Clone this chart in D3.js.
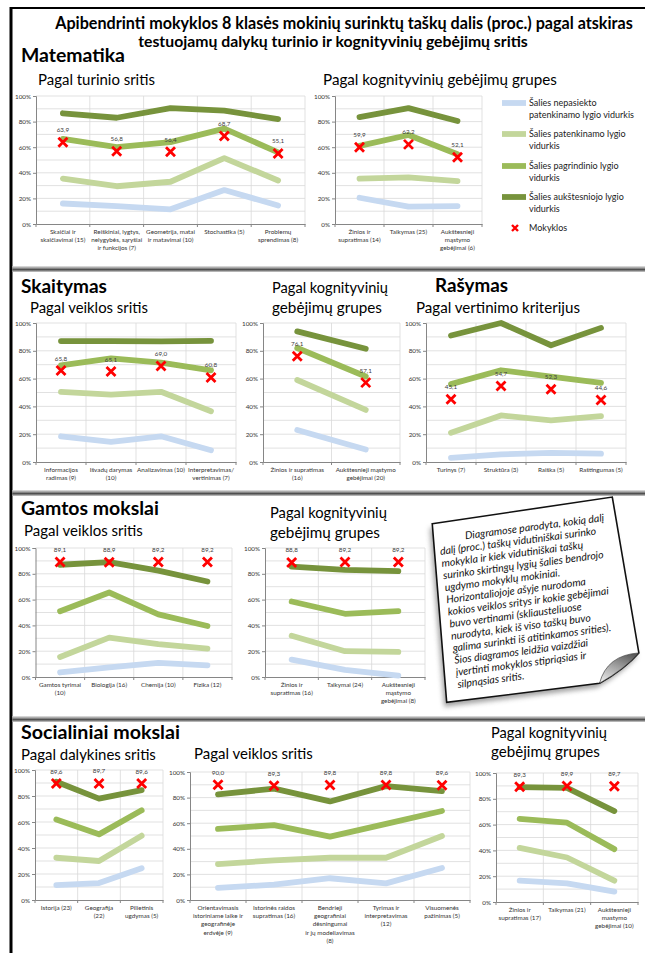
<!DOCTYPE html>
<html>
<head>
<meta charset="utf-8">
<script src="https://cdn.jsdelivr.net/npm/d3@7"></script>
<style>
  body { margin: 0; background: #fff; }
  svg { display: block; font-family: Lato, "Open Sans", sans-serif; }
</style>
</head>
<body>
<svg id="page" width="645" height="953"></svg>
<script>
// ---- serijos ----
const seriesNames = ["Šalies nepasiekto\npatenkinamo lygio vidurkis", "Šalies patenkinamo lygio\nvidurkis",
  "Šalies pagrindinio lygio\nvidurkis", "Šalies aukštesniojo lygio\nvidurkis"];
const schoolName = "Mokyklos";

// Matematika - pagal turinio sritis
const matTurCats = ["Skaičiai ir\nskaičiavimai (15)", "Reiškiniai, lygtys,\nnelygybės, sąryšiai\nir funkcijos (7)",
  "Geometrija, matai\nir matavimai (10)", "Stochastika (5)", "Problemų\nsprendimas (8)"];
const matTurNepas = [16, 14, 11.5, 26.5, 14.5];
const matTurPaten = [35.5, 29.5, 33, 51.5, 34];
const matTurPagr = [66.5, 60, 64, 74.5, 56];
const matTurAuk = [86.5, 83, 90.5, 88.5, 82];
const matTurMok = [63.9, 56.8, 56.4, 68.7, 55.1];

// Matematika - pagal kognityvinių gebėjimų grupes
const matKogCats = ["Žinios ir\nsupratimas (14)", "Taikymas (25)", "Aukštesnieji\nmąstymo\ngebėjimai (6)"];
const matKogNepas = [20.5, 13.5, 14];
const matKogPaten = [35.5, 36.5, 33.5];
const matKogPagr = [61, 69.5, 54.5];
const matKogAuk = [83.5, 90.5, 80.5];
const matKogMok = [59.9, 62.2, 52.1];

// Skaitymas - pagal veiklos sritis
const skVeikCats = ["Informacijos\nradimas (9)", "Išvadų darymas\n(10)", "Analizavimas (10)", "Interpretavimas/\nvertinimas (7)"];
const skVeikNepas = [18.5, 14.5, 18.5, 8.5];
const skVeikPaten = [50.5, 48.5, 50.5, 36.5];
const skVeikPagr = [69.5, 74.5, 71.5, 66];
const skVeikAuk = [87, 87, 86.8, 87.2];
const skVeikMok = [65.8, 65.1, 69.0, 60.8];

// Skaitymas - pagal kognityvinių gebėjimų grupes
const skKogCats = ["Žinios ir supratimas\n(16)", "Aukštesnieji mąstymo\ngebėjimai (20)"];
const skKogNepas = [23, 9];
const skKogPaten = [59, 37.5];
const skKogPagr = [82, 61.5];
const skKogAuk = [94, 81.5];
const skKogMok = [76.1, 57.1];

// Rašymas - pagal vertinimo kriterijus
const rasCats = ["Turinys (7)", "Struktūra (3)", "Raiška (5)", "Raštingumas (5)"];
const rasNepas = [3, 5.5, 6.5, 6];
const rasPaten = [21, 33.5, 30, 33];
const rasPagr = [56, 66, 61.5, 57];
const rasAuk = [91, 100, 84, 96.5];
const rasMok = [45.1, 54.7, 52.3, 44.6];

// Gamtos mokslai - pagal veiklos sritis
const gamVeikCats = ["Gamtos tyrimai\n(10)", "Biologija (16)", "Chemija (10)", "Fizika  (12)"];
const gamVeikNepas = [3.5, 7.5, 11, 9];
const gamVeikPaten = [15.5, 30.5, 25.5, 22];
const gamVeikPagr = [51, 65.5, 48.5, 39.5];
const gamVeikAuk = [87, 89, 82.5, 74];
const gamVeikMok = [89.1, 88.9, 89.2, 89.2];

// Gamtos mokslai - pagal kognityvinių gebėjimų grupes
const gamKogCats = ["Žinios ir\nsupratimas (16)", "Taikymai (24)", "Aukštesnieji\nmąstymo\ngebėjimai (8)"];
const gamKogNepas = [13.5, 5.5, 1];
const gamKogPaten = [32, 20, 19.5];
const gamKogPagr = [58.5, 49, 51];
const gamKogAuk = [85.5, 83, 82];
const gamKogMok = [88.8, 89.2, 89.2];

// Socialiniai mokslai - pagal dalykines sritis
const socDalCats = ["Istorija (23)", "Geografija\n(22)", "Pilietinis\nugdymas (5)"];
const socDalNepas = [11.5, 13, 24.5];
const socDalPaten = [32.5, 30, 49.5];
const socDalPagr = [62, 50.5, 69];
const socDalAuk = [91, 78, 84.5];
const socDalMok = [89.6, 89.7, 89.6];

// Socialiniai mokslai - pagal veiklos sritis
const socVeikCats = ["Orientavimasis\nistoriniame laike ir\ngeografinėje\nerdvėje (9)", "Istorinės raidos\nsupratimas (16)",
  "Bendrieji\ngeografiniai\ndėsningumai\nir jų modeliavimas\n(8)", "Tyrimas ir\ninterpretavimas\n(12)", "Visuomenės\npažinimas (5)"];
const socVeikNepas = [9.5, 12, 17, 13, 25];
const socVeikPaten = [28, 31, 33, 33, 50];
const socVeikPagr = [55.5, 58.5, 49.5, 59.5, 69.5];
const socVeikAuk = [82.5, 87, 77, 89, 85];
const socVeikMok = [90.0, 89.3, 89.8, 89.8, 89.6];

// Socialiniai mokslai - pagal kognityvinių gebėjimų grupes
const socKogCats = ["Žinios ir\nsupratimas (17)", "Taikymas  (21)", "Aukštesnieji\nmastymo\ngebėjimai (10)"];
const socKogNepas = [16.5, 14.5, 8];
const socKogPaten = [42, 34.5, 16.5];
const socKogPagr = [64.5, 61.5, 41];
const socKogAuk = [89, 88.5, 70.5];
const socKogMok = [89.3, 89.9, 89.7];

const noteLines = [
  "Diagramose parodyta, kokią dalį",
  "dalį (proc.) taškų vidutiniškai surinko",
  "mokykla ir kiek vidutiniškai taškų",
  "surinko skirtingų lygių šalies bendrojo",
  "ugdymo mokyklų mokiniai.",
  "Horizontaliojoje ašyje nurodoma",
  "kokios veiklos sritys ir kokie gebėjimai",
  "buvo vertinami (skliausteliuose",
  "nurodyta, kiek iš viso taškų buvo",
  "galima surinkti iš atitinkamos srities).",
  "Šios diagramos leidžia  vaizdžiai",
  "įvertinti  mokyklos stipriąsias ir",
  "silpnąsias sritis."
];

const colors = ["#C6D9F1", "#C3D69B", "#9BBB59", "#77933C"];

const svg = d3.select("#page");

// tekstas, kurio plotis pritaikomas prie originalo
function text(x, y, str, size, width, opts = {}) {
  const t = svg.append("text").attr("x", x).attr("y", y).attr("font-size", size)
    .attr("font-weight", opts.bold ? "bold" : "normal").attr("fill", "#000")
    .attr("text-anchor", opts.anchor || "start").text(str);
  if (width) {
    const len = t.node().getComputedTextLength();
    t.attr("font-size", size * width / len);
  }
  return t;
}

const fmt = v => d3.format(".1f")(v).replace(".", ",");

function drawChart(c) {
  const g = svg.append("g");
  const x = d3.scaleBand().domain(c.cats).range([c.x0, c.x1]);
  const y = d3.scaleLinear().domain([0, 100]).range([c.y1, c.y0]);
  const cx = (d, i) => x(c.cats[i]) + x.bandwidth() / 2;

  g.selectAll(".hg").data(d3.range(10, 101, 10)).join("line")
    .attr("x1", c.x0).attr("x2", c.x1)
    .attr("y1", d => y(d)).attr("y2", d => y(d))
    .attr("stroke", "#D9D9D9").attr("stroke-width", 0.8);

  const bounds = c.cats.slice(1).map(d => x(d)).concat([c.x1]);
  g.selectAll(".vg").data(bounds).join("line")
    .attr("x1", d => d).attr("x2", d => d)
    .attr("y1", c.y0).attr("y2", c.y1)
    .attr("stroke", "#D9D9D9").attr("stroke-width", 0.8);

  const ya = g.append("g").attr("transform", `translate(${c.x0},0)`)
    .call(d3.axisLeft(y).tickValues(d3.range(0, 101, 20)).tickFormat(d => d + "%").tickSize(3).tickPadding(2));
  ya.select(".domain").attr("stroke", "#868686");
  ya.selectAll(".tick line").attr("stroke", "#868686");
  ya.selectAll("text").attr("font-size", 6.3).attr("fill", "#333").attr("font-family", "Lato, sans-serif");

  const xa = g.append("g").attr("transform", `translate(0,${c.y1})`)
    .call(d3.axisBottom(x).tickSize(0).tickPadding(0));
  xa.select(".domain").attr("stroke", "#868686");
  xa.selectAll(".tick text").each(function (d) {
    const t = d3.select(this).attr("y", 0).attr("dy", null).text(null)
      .attr("font-size", 6.3).attr("fill", "#333").attr("font-family", "Lato, sans-serif");
    d.split("\n").forEach((s, i) => t.append("tspan").attr("x", 0).attr("dy", i ? 8.2 : 10).text(s));
  });
  g.selectAll(".xt").data([c.x0].concat(bounds)).join("line")
    .attr("x1", d => d).attr("x2", d => d)
    .attr("y1", c.y1).attr("y2", c.y1 + 3)
    .attr("stroke", "#868686");

  const line = d3.line().x(cx).y(d => y(d));
  c.series.forEach((s, i) => {
    g.append("path").datum(s).attr("d", line)
      .attr("fill", "none").attr("stroke", colors[i]).attr("stroke-width", 5.8)
      .attr("stroke-linecap", "round").attr("stroke-linejoin", "round");
  });

  g.selectAll(".mk").data(c.school).join("path")
    .attr("transform", (d, i) => `translate(${cx(d, i)},${y(d)})`)
    .attr("d", "M-4.5,-4.5L4.5,4.5M4.5,-4.5L-4.5,4.5")
    .attr("stroke", "#FF0000").attr("stroke-width", 2.8);

  g.selectAll(".vl").data(c.school).join("text")
    .attr("x", cx).attr("y", d => y(d) - 10)
    .attr("text-anchor", "middle").attr("font-size", 6.3).attr("fill", "#404040")
    .text(fmt);
}

// rėmeliai
svg.append("line").attr("x1", 11).attr("x2", 11).attr("y1", 7).attr("y2", 953).attr("stroke", "#000").attr("stroke-width", 3);
svg.append("line").attr("x1", 10).attr("x2", 645).attr("y1", 8).attr("y2", 8).attr("stroke", "#000").attr("stroke-width", 2);

const defs = svg.append("defs");
const sepGrad = defs.append("linearGradient").attr("id", "sep").attr("x1", 0).attr("x2", 0).attr("y1", 0).attr("y2", 1);
[["0%", "#e8e8e8"], ["40%", "#8a8a8a"], ["60%", "#4a4a4a"], ["100%", "#d0d0d0"]]
  .forEach(([o, col]) => sepGrad.append("stop").attr("offset", o).attr("stop-color", col));
[266, 490, 716].forEach(yy => {
  svg.append("rect").attr("x", 12.5).attr("y", yy).attr("width", 633).attr("height", 6).attr("fill", "url(#sep)");
});

// antraštės
text(344, 29, "Apibendrinti mokyklos 8 klasės mokinių surinktų taškų dalis (proc.) pagal atskiras", 15, 578, { bold: true, anchor: "middle" });
text(333, 47, "testuojamų dalykų  turinio ir kognityvinių gebėjimų sritis", 15, 390, { bold: true, anchor: "middle" });

text(21, 62, "Matematika", 21, 104, { bold: true });
text(38, 85, "Pagal turinio sritis", 15, 117);
text(323, 85, "Pagal kognityvinių  gebėjimų grupes", 15, 234);

text(21, 293, "Skaitymas", 20, 86, { bold: true });
text(30, 313, "Pagal veiklos sritis", 15, 118);
text(272, 293, "Pagal kognityvinių", 15, 116);
text(272, 313, "gebėjimų  grupes", 15, 110);
text(435, 292, "Rašymas", 20, 73, { bold: true });
text(416, 313, "Pagal vertinimo  kriterijus", 15, 164);

text(21, 515, "Gamtos mokslai", 20, 138, { bold: true });
text(24, 536, "Pagal veiklos sritis", 15, 119);
text(270, 518, "Pagal kognityvinių", 15, 117);
text(270, 538, "gebėjimų  grupes", 15, 110);

text(21, 739, "Socialiniai mokslai", 20, 159, { bold: true });
text(21, 760, "Pagal dalykines  sritis", 15, 135);
text(194, 759, "Pagal veiklos sritis", 15, 119);
text(491, 738, "Pagal kognityvinių", 15, 116);
text(491, 757, "gebėjimų  grupes", 15, 109);

// diagramos
const charts = [
  { cats: matTurCats, series: [matTurNepas, matTurPaten, matTurPagr, matTurAuk], school: matTurMok, x0: 36, x1: 305, y0: 96, y1: 224 },
  { cats: matKogCats, series: [matKogNepas, matKogPaten, matKogPagr, matKogAuk], school: matKogMok, x0: 335, x1: 482, y0: 96, y1: 224 },
  { cats: skVeikCats, series: [skVeikNepas, skVeikPaten, skVeikPagr, skVeikAuk], school: skVeikMok, x0: 36, x1: 236, y0: 323, y1: 462 },
  { cats: skKogCats, series: [skKogNepas, skKogPaten, skKogPagr, skKogAuk], school: skKogMok, x0: 263, x1: 400, y0: 323, y1: 462 },
  { cats: rasCats, series: [rasNepas, rasPaten, rasPagr, rasAuk], school: rasMok, x0: 426, x1: 626, y0: 323, y1: 462 },
  { cats: gamVeikCats, series: [gamVeikNepas, gamVeikPaten, gamVeikPagr, gamVeikAuk], school: gamVeikMok, x0: 35.5, x1: 232, y0: 548, y1: 677 },
  { cats: gamKogCats, series: [gamKogNepas, gamKogPaten, gamKogPagr, gamKogAuk], school: gamKogMok, x0: 265, x1: 425, y0: 548, y1: 677 },
  { cats: socDalCats, series: [socDalNepas, socDalPaten, socDalPagr, socDalAuk], school: socDalMok, x0: 35, x1: 163, y0: 770, y1: 900 },
  { cats: socVeikCats, series: [socVeikNepas, socVeikPaten, socVeikPagr, socVeikAuk], school: socVeikMok, x0: 190, x1: 470, y0: 772, y1: 900 },
  { cats: socKogCats, series: [socKogNepas, socKogPaten, socKogPagr, socKogAuk], school: socKogMok, x0: 496, x1: 638, y0: 773, y1: 902 }
];
charts.forEach(drawChart);

// legenda
const leg = svg.append("g").attr("font-size", 9).attr("fill", "#222");
const legY = [103, 134, 166, 197];
seriesNames.forEach((name, i) => {
  leg.append("line").attr("x1", 502).attr("x2", 526).attr("y1", legY[i]).attr("y2", legY[i])
    .attr("stroke", colors[i]).attr("stroke-width", 5.8);
  const t = leg.append("text").attr("x", 529).attr("y", legY[i] + 3);
  name.split("\n").forEach((s, j) => t.append("tspan").attr("x", 529).attr("dy", j ? 11.5 : 0).text(s));
});
leg.append("path").attr("transform", "translate(515,228)")
  .attr("d", "M-3,-3L3,3M3,-3L-3,3").attr("stroke", "#FF0000").attr("stroke-width", 2.4);
leg.append("text").attr("x", 529).attr("y", 231).text(schoolName);

// paaiškinimo lapelis
const blur = defs.append("filter").attr("id", "blur").attr("x", "-20%").attr("y", "-20%").attr("width", "140%").attr("height", "140%");
blur.append("feGaussianBlur").attr("stdDeviation", 2.5);
const curlGrad = defs.append("linearGradient").attr("id", "curl").attr("x1", 0).attr("y1", 1).attr("x2", 1).attr("y2", 0);
[["0%", "#f4f4f4"], ["55%", "#9a9a9a"], ["100%", "#4a4a4a"]]
  .forEach(([o, col]) => curlGrad.append("stop").attr("offset", o).attr("stop-color", col));

const note = svg.append("g").attr("transform", "translate(440,552) rotate(-7.5)");
const paper = "M-4,-29 L178,-32 L184,126 Q168,140 141,151 L-13,150 Z";
note.append("path").attr("d", paper).attr("transform", "translate(-3,4)").attr("fill", "#555").attr("opacity", 0.55).attr("filter", "url(#blur)");
note.append("path").attr("d", paper).attr("fill", "#fff").attr("stroke", "#111").attr("stroke-width", 1.6);
note.append("path").attr("d", "M184,126 Q152,124 141,151 Q168,140 184,126 Z").attr("fill", "url(#curl)").attr("stroke", "#333").attr("stroke-width", 0.6);

const nt = note.append("g").attr("font-style", "italic").attr("fill", "#111").attr("font-size", 10);
noteLines.forEach((s, i) => {
  nt.append("text").attr("x", i === 0 ? 27 : 0).attr("y", 3 + (i - 1) * 12.2).text(s);
});
const ref = nt.selectAll("text").nodes()[3].getComputedTextLength();
nt.attr("font-size", 10 * 162 / ref);
</script>
</body>
</html>
